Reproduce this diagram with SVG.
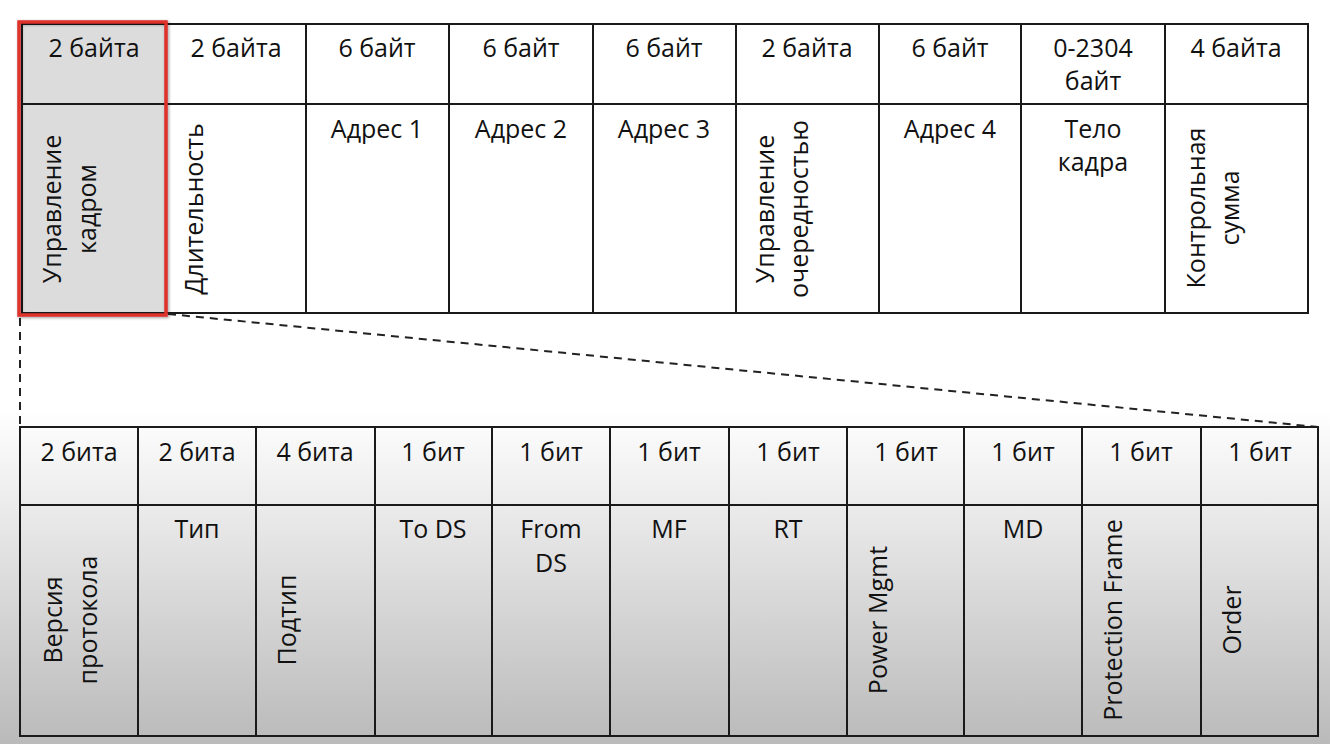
<svg xmlns="http://www.w3.org/2000/svg" width="1330" height="744" viewBox="0 0 1330 744">
  <defs>
    <linearGradient id="bg" x1="0" y1="0" x2="0" y2="744" gradientUnits="userSpaceOnUse">
      <stop offset="0" stop-color="#ffffff"/>
      <stop offset="0.55" stop-color="#ffffff"/>
      <stop offset="1" stop-color="#bababa"/>
    </linearGradient>
    <filter id="shadow" x="-10%" y="-10%" width="120%" height="120%">
      <feGaussianBlur stdDeviation="1.5"/>
    </filter>
  </defs>
  <style>
    .grid { fill: none; stroke: #1a1a1a; stroke-width: 2; }
    .t { font-family: "Open Sans", "Noto Sans", "DejaVu Sans", sans-serif; font-size: 25px; fill: #111; text-anchor: middle; }
    .dash { fill: none; stroke: #222; stroke-width: 2; stroke-dasharray: 8 6; }
  </style>

  <rect x="0" y="0" width="1330" height="744" fill="url(#bg)"/>

  <!-- 802.11 frame: header and field rows -->
  <g id="frame">
    <rect x="22" y="24" width="144" height="289" fill="#dcdcdc"/>
    <rect x="166" y="24" width="1142" height="289" fill="#ffffff"/>
    <rect class="grid" x="22" y="24" width="1286" height="289"/>
    <line class="grid" x1="22" y1="104" x2="1308" y2="104"/>
    <path class="grid" d="M166 24V313M306 24V313M449 24V313M593 24V313M736 24V313M879 24V313M1021 24V313M1165 24V313"/>
  </g>

  <g id="f-fc">
    <text class="t" x="94" y="57">2 байта</text>
    <text class="t" transform="translate(61 209) rotate(-90)">Управление</text>
    <text class="t" transform="translate(96 209) rotate(-90)">кадром</text>
  </g>
  <g id="f-duration">
    <text class="t" x="236" y="57">2 байта</text>
    <text class="t" transform="translate(203 209) rotate(-90)">Длительность</text>
  </g>
  <g id="f-addr1">
    <text class="t" x="377" y="57">6 байт</text>
    <text class="t" x="377" y="138">Адрес 1</text>
  </g>
  <g id="f-addr2">
    <text class="t" x="521" y="57">6 байт</text>
    <text class="t" x="521" y="138">Адрес 2</text>
  </g>
  <g id="f-addr3">
    <text class="t" x="664" y="57">6 байт</text>
    <text class="t" x="664" y="138">Адрес 3</text>
  </g>
  <g id="f-seq">
    <text class="t" x="807" y="57">2 байта</text>
    <text class="t" transform="translate(774 209) rotate(-90)">Управление</text>
    <text class="t" transform="translate(808 209) rotate(-90)">очередностью</text>
  </g>
  <g id="f-addr4">
    <text class="t" x="950" y="57">6 байт</text>
    <text class="t" x="950" y="138">Адрес 4</text>
  </g>
  <g id="f-body">
    <text class="t" x="1093" y="57">0-2304</text>
    <text class="t" x="1093" y="90">байт</text>
    <text class="t" x="1093" y="138">Тело</text>
    <text class="t" x="1093" y="171">кадра</text>
  </g>
  <g id="f-fcs">
    <text class="t" x="1236" y="57">4 байта</text>
    <text class="t" transform="translate(1205 208) rotate(-90)">Контрольная</text>
    <text class="t" transform="translate(1239 208) rotate(-90)">сумма</text>
  </g>

  <!-- expansion lines from the frame control field -->
  <g id="connectors">
    <line class="dash" x1="20" y1="318" x2="20" y2="426"/>
    <line class="dash" x1="168" y1="314" x2="1318" y2="427"/>
  </g>

  <!-- highlight on the frame control field -->
  <g id="highlight">
    <rect x="19" y="22" width="147" height="293" fill="none" stroke="#000" stroke-opacity="0.35" stroke-width="4" filter="url(#shadow)" transform="translate(1 1)"/>
    <rect x="19" y="22" width="147" height="293" fill="none" stroke="#e0312b" stroke-width="3.5"/>
  </g>

  <!-- frame control subfields -->
  <g id="fc-table">
    <rect class="grid" x="20" y="427" width="1298" height="309"/>
    <line class="grid" x1="20" y1="505" x2="1318" y2="505"/>
    <path class="grid" d="M138 427V736M256 427V736M375 427V736M492 427V736M610 427V736M729 427V736M847 427V736M964 427V736M1082 427V736M1201 427V736"/>
  </g>

  <g id="b-version">
    <text class="t" x="79" y="461">2 бита</text>
    <text class="t" transform="translate(62 620) rotate(-90)">Версия</text>
    <text class="t" transform="translate(97 620) rotate(-90)">протокола</text>
  </g>
  <g id="b-type">
    <text class="t" x="197" y="461">2 бита</text>
    <text class="t" x="197" y="538">Тип</text>
  </g>
  <g id="b-subtype">
    <text class="t" x="315" y="461">4 бита</text>
    <text class="t" transform="translate(296 620) rotate(-90)">Подтип</text>
  </g>
  <g id="b-tods">
    <text class="t" x="433" y="461">1 бит</text>
    <text class="t" x="433" y="538">To DS</text>
  </g>
  <g id="b-fromds">
    <text class="t" x="551" y="461">1 бит</text>
    <text class="t" x="551" y="538">From</text>
    <text class="t" x="551" y="572">DS</text>
  </g>
  <g id="b-mf">
    <text class="t" x="669" y="461">1 бит</text>
    <text class="t" x="669" y="538">MF</text>
  </g>
  <g id="b-rt">
    <text class="t" x="788" y="461">1 бит</text>
    <text class="t" x="788" y="538">RT</text>
  </g>
  <g id="b-pwr">
    <text class="t" x="906" y="461">1 бит</text>
    <text class="t" transform="translate(887 620) rotate(-90)">Power Mgmt</text>
  </g>
  <g id="b-md">
    <text class="t" x="1023" y="461">1 бит</text>
    <text class="t" x="1023" y="538">MD</text>
  </g>
  <g id="b-prot">
    <text class="t" x="1141" y="461">1 бит</text>
    <text class="t" transform="translate(1122 620) rotate(-90)">Protection Frame</text>
  </g>
  <g id="b-order">
    <text class="t" x="1260" y="461">1 бит</text>
    <text class="t" transform="translate(1241 620) rotate(-90)">Order</text>
  </g>
</svg>
